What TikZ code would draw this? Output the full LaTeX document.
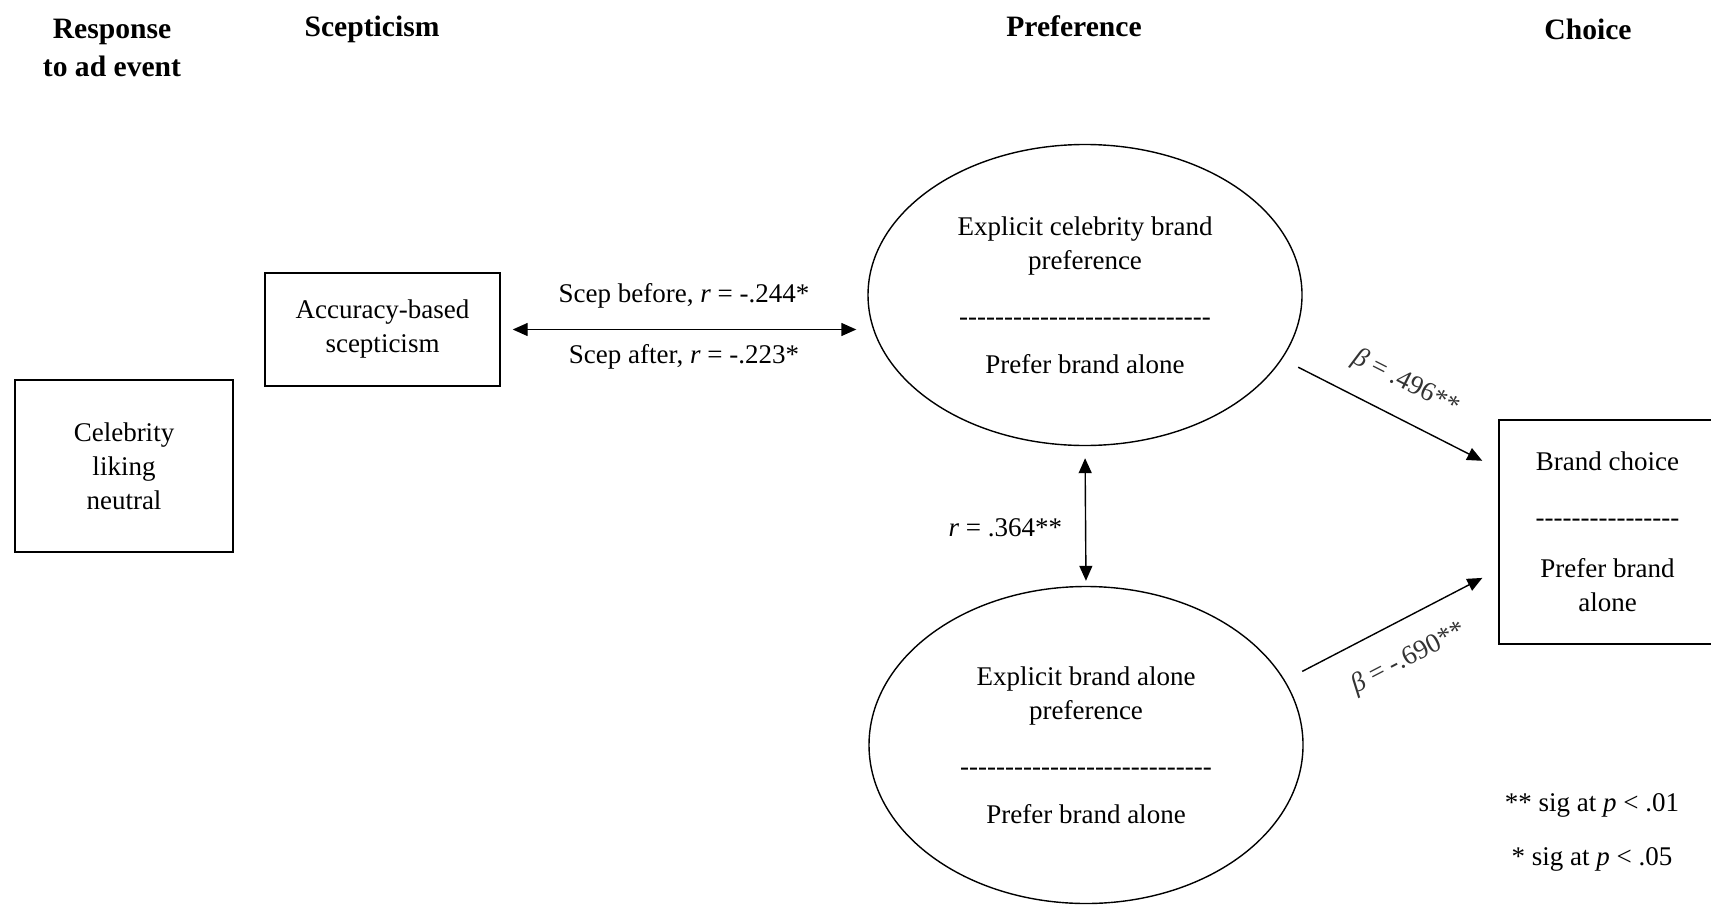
\documentclass[tikz,border=0pt]{standalone}
\usepackage{fontspec}
\setmainfont{Liberation Serif}
\usetikzlibrary{arrows.meta,shapes.geometric}
\newcommand{\seprow}[1]{\foreach \k in {1,...,#1}{\mbox{-}}}

\begin{document}
\begin{tikzpicture}[x=0.5pt, y=-0.5pt,
    font=\fontsize{13.5}{17}\selectfont, line width=0.7pt,
    box/.style={draw, rectangle, align=center},
    blob/.style={draw, ellipse, align=center, minimum width=217pt},
    head/.style={font=\fontsize{14.8}{19}\selectfont\bfseries, align=center},
    arr/.style={-{Triangle[length=7.5pt, width=6.5pt]}},
    twoway/.style={{Triangle[length=7.5pt, width=6.5pt]}-{Triangle[length=7.5pt, width=6.5pt]}},
    coef/.style={text=black!80}]

    \useasboundingbox (0,0) rectangle (1711,904);

    \node[head] (h1) at (112,48) {Response\\to ad event};
    \node[head] (h2) at (372,29) {Scepticism};
    \node[head] (h3) at (1074,26) {Preference};
    \node[head] (h4) at (1588,29) {Choice};

    \node[box, minimum width=109pt, minimum height=86pt] (celeb) at (124,466) {Celebrity\\liking\\neutral};
    \node[box, minimum width=117.5pt, minimum height=56.5pt] (acc) at (382.5,329.5) {Accuracy-based\\scepticism};
    \node[blob, minimum height=150.5pt] (pref1) at (1085,295) {Explicit celebrity brand\\preference\\[11pt]\seprow{28}\\[7pt]Prefer brand alone};
    \node[blob, minimum height=158.5pt] (pref2) at (1086,745) {Explicit brand alone\\preference\\[11pt]\seprow{28}\\[7pt]Prefer brand alone};
    \node[box, minimum width=108.5pt, minimum height=112pt] (choice) at (1607.5,532) {Brand choice\\[11pt]\seprow{16}\\[8.5pt]Prefer brand\\alone};

    \node (sig2) at (1592,805) {** sig at \textit{p} < .01};
    \node (sig1) at (1592,859) {* sig at \textit{p} < .05};

    \draw[twoway, shorten <=6pt, shorten >=5.5pt] (acc.east) -- (acc.east -| pref1.west)
        node[midway, above=7pt] {Scep before, \textit{r} = -.244*}
        node[midway, below=4pt] {Scep after, \textit{r} = -.223*};
    \draw[twoway, shorten <=6pt, shorten >=2.5pt] (pref1.south) -- (pref2.north)
        node[midway, left=8pt, yshift=-6pt] {\textit{r} = .364**};
    \draw[arr, shorten <=9pt, shorten >=9pt] (pref1.-18) -- (choice.150)
        node[midway, sloped, above=7.5pt, coef] {\textit{β} = .496**};
    \draw[arr, shorten <=9.75pt, shorten >=9pt] (pref2.18) -- (choice.199)
        node[midway, sloped, below=9pt, coef] {\textit{β} = -.690**};
\end{tikzpicture}
\end{document}
